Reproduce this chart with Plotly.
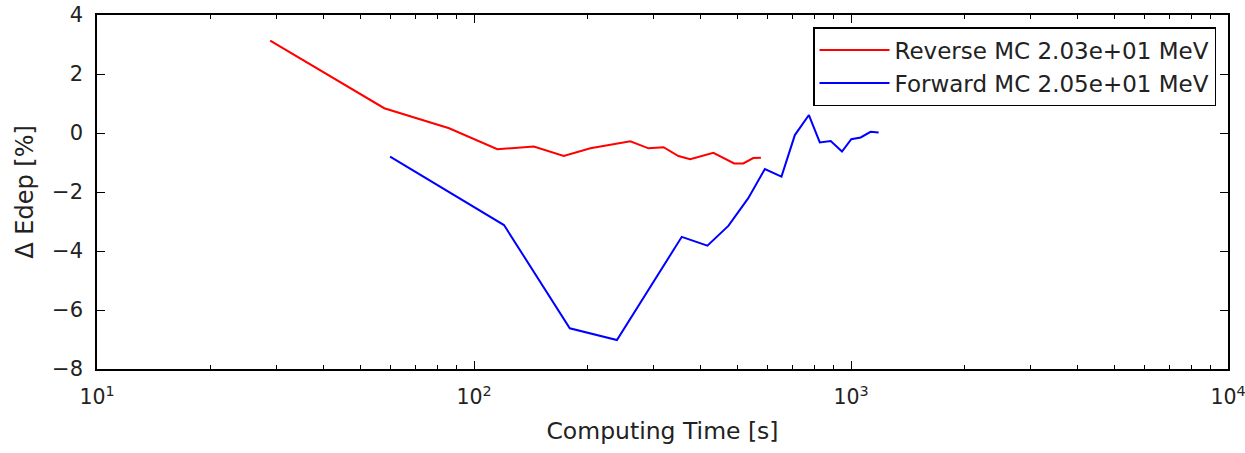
import plotly.graph_objects as go

# Reverse Monte Carlo run: computing time [s] vs relative deviation of deposited energy [%]
reverse_time = [28.8, 57.8, 85.9, 115.3, 144.1, 173.0, 203.6, 259.8, 290.4, 318.2,
                348.6, 374.5, 431.5, 490.0, 517.9, 550.5, 576.9]
reverse_dedep = [3.13, 0.84, 0.16, -0.55, -0.46, -0.78, -0.52, -0.28, -0.52, -0.48,
                 -0.78, -0.89, -0.67, -1.03, -1.03, -0.85, -0.84]

# Forward Monte Carlo run
forward_time = [59.9, 120.1, 179.5, 239.4, 355.7, 416.0, 472.8, 534.0, 591.0, 654.0,
                709.7, 773.3, 826.5, 883.6, 946.5, 1001.8, 1061.0, 1127.0, 1184.0]
forward_dedep = [-0.80, -3.12, -6.62, -7.02, -3.52, -3.82, -3.15, -2.21, -1.22, -1.48,
                 -0.07, 0.61, -0.32, -0.27, -0.63, -0.21, -0.15, 0.04, 0.02]

reverse_name = "Reverse MC 2.03e+01 MeV"
forward_name = "Forward MC 2.05e+01 MeV"

x_tickvals = [10, 100, 1000, 10000]
x_ticktext = ["10<sup>1</sup>", "10<sup>2</sup>", "10<sup>3</sup>", "10<sup>4</sup>"]
y_tickvals = [4, 2, 0, -2, -4, -6, -8]
y_ticktext = ["4", "2", "0", "\u22122", "\u22124", "\u22126", "\u22128"]

FONT = "DejaVu Sans"

fig = go.Figure()
fig.add_trace(go.Scatter(x=reverse_time, y=reverse_dedep, mode="lines", name=reverse_name,
                         line=dict(color="#ff0000", width=2)))
fig.add_trace(go.Scatter(x=forward_time, y=forward_dedep, mode="lines", name=forward_name,
                         line=dict(color="#0000ff", width=2)))

axis_common = dict(showline=True, linecolor="black", linewidth=1.5, mirror="allticks",
                   ticks="inside", tickcolor="black", tickwidth=1.2, ticklen=8,
                   showgrid=False, zeroline=False, automargin=False)

fig.update_xaxes(type="log", range=[0.99999, 4.00001], tickvals=x_tickvals, ticktext=x_ticktext,
                 tickfont=dict(family=FONT, size=20.5, color="#222"),
                 ticklabelstandoff=9, ticklabeloverflow="allow",
                 minor=dict(ticks="inside", ticklen=4, tickcolor="black", tickwidth=1,
                            dtick="D1", showgrid=False),
                 title=dict(text="Computing Time [s]", font=dict(family=FONT, size=23.5, color="#222"),
                            standoff=14),
                 **axis_common)
fig.update_yaxes(range=[-8, 4], tickvals=y_tickvals, ticktext=y_ticktext,
                 tickfont=dict(family=FONT, size=21, color="#222"),
                 ticklabelstandoff=8,
                 title=dict(text="\u0394 Edep [%]", font=dict(family=FONT, size=24, color="#222"),
                            standoff=12),
                 **axis_common)

fig.update_layout(
    width=1245, height=453,
    margin=dict(l=97, r=17, t=15, b=84),
    paper_bgcolor="white", plot_bgcolor="white",
    font=dict(family=FONT, color="#222"),
    showlegend=True,
    legend=dict(x=0.9894, xanchor="right", y=0.966, yanchor="top",
                bgcolor="white", bordercolor="black", borderwidth=1.5,
                font=dict(family=FONT, size=23, color="#222"),
                tracegroupgap=0, itemwidth=70),
)

fig.write_html("out.html")
